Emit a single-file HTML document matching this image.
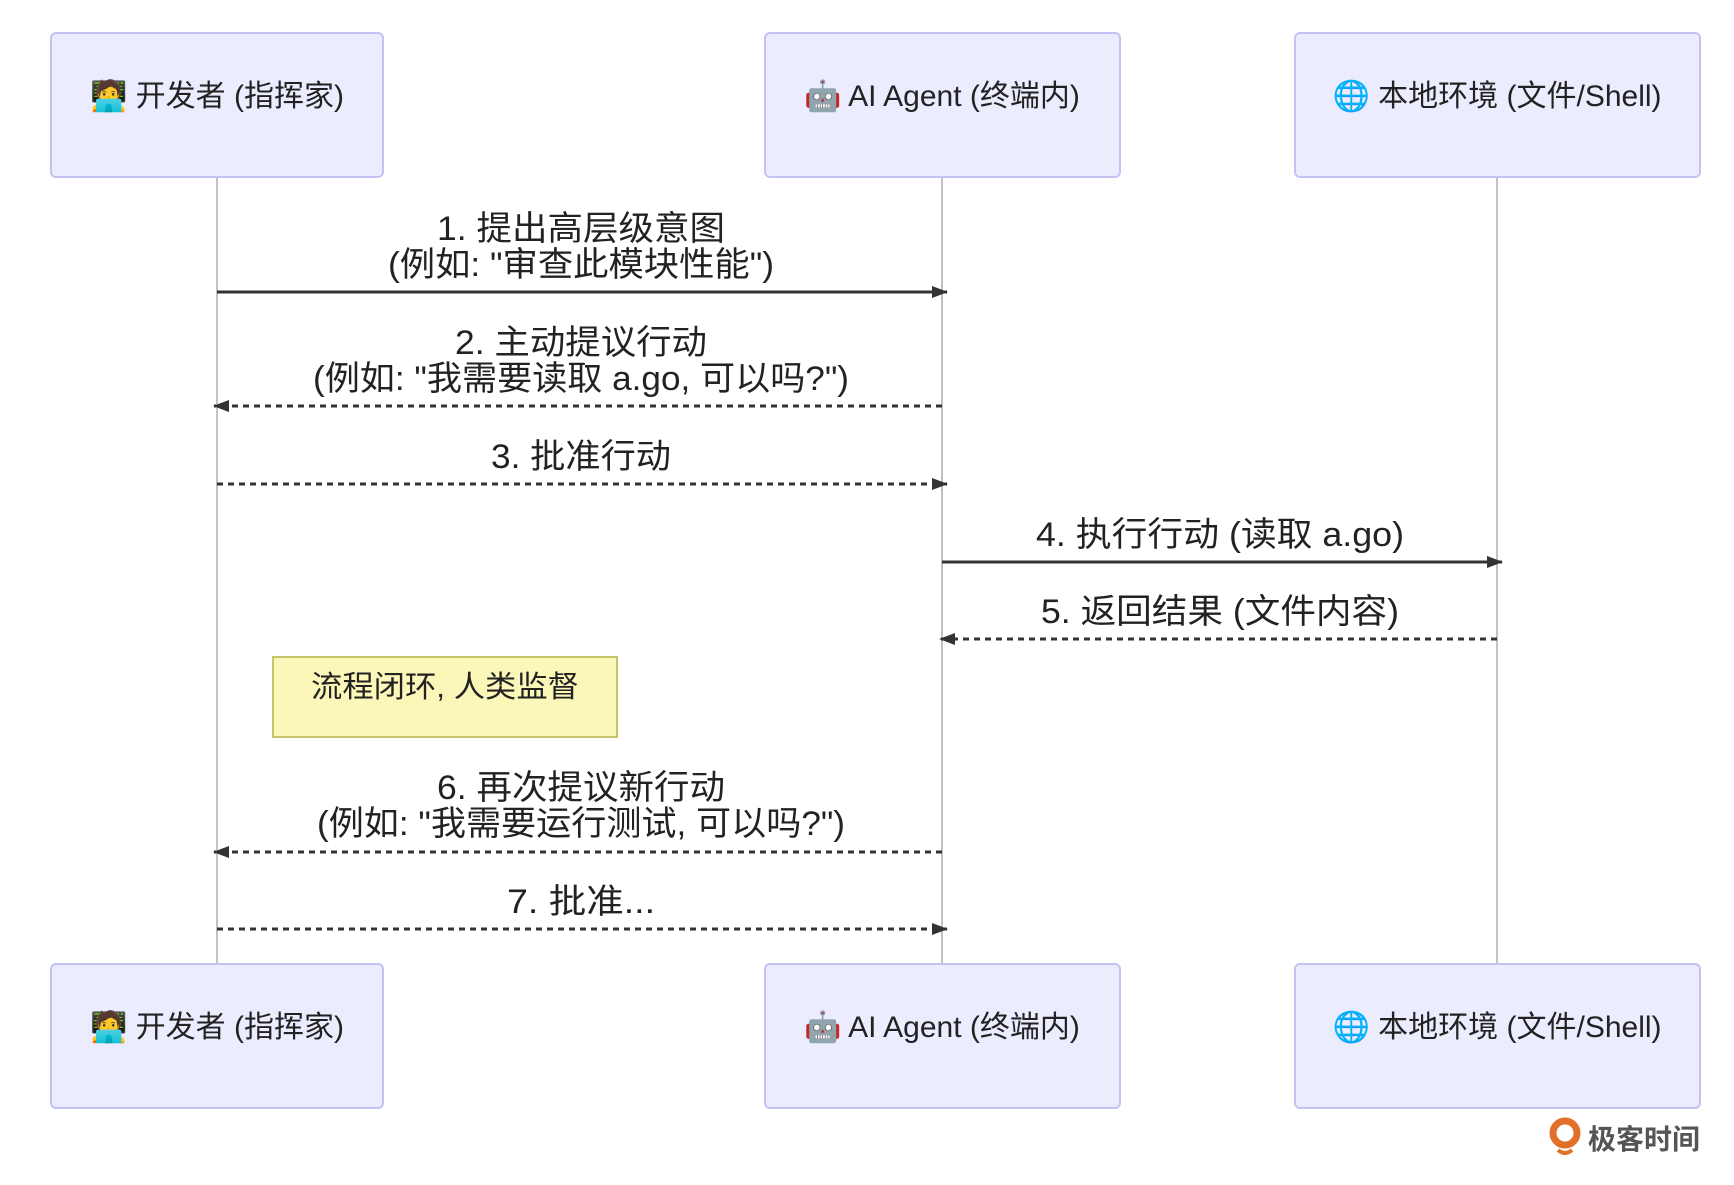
<!DOCTYPE html>
<html><head><meta charset="utf-8"><style>
html,body{margin:0;padding:0;background:#fff}
svg text{font-family:"Liberation Sans","Noto Sans CJK SC",sans-serif;fill:#222}
</style></head><body>
<svg width="1734" height="1180" viewBox="0 0 1734 1180" xmlns="http://www.w3.org/2000/svg">
<defs>
<marker id="a" markerWidth="16" markerHeight="12" refX="15" refY="6" orient="auto" markerUnits="userSpaceOnUse"><path d="M0,0 L16,6 L0,12 z" fill="#333"/></marker>
</defs>
<g stroke="#999" stroke-width="1.2">
<line x1="217" y1="178" x2="217" y2="964"/>
<line x1="942" y1="178" x2="942" y2="964"/>
<line x1="1497" y1="178" x2="1497" y2="964"/>
</g>
<g fill="#ececff" stroke="#c3c3f5" stroke-width="2">
<rect x="51" y="33" width="332" height="144" rx="5"/>
<rect x="765" y="33" width="355" height="144" rx="5"/>
<rect x="1295" y="33" width="405" height="144" rx="5"/>
<rect x="51" y="964" width="332" height="144" rx="5"/>
<rect x="765" y="964" width="355" height="144" rx="5"/>
<rect x="1295" y="964" width="405" height="144" rx="5"/>
</g>
<g font-size="30" text-anchor="middle">
<text x="217" y="106">🧑‍💻 开发者 (指挥家)</text>
<text x="942" y="106">🤖 AI Agent (终端内)</text>
<text x="1497" y="106">🌐 本地环境 (文件/Shell)</text>
<text x="217" y="1037">🧑‍💻 开发者 (指挥家)</text>
<text x="942" y="1037">🤖 AI Agent (终端内)</text>
<text x="1497" y="1037">🌐 本地环境 (文件/Shell)</text>
</g>
<g stroke="#333" stroke-width="3" fill="none">
<line x1="217" y1="292" x2="947" y2="292" marker-end="url(#a)"/>
<line x1="942" y1="406" x2="214" y2="406" stroke-dasharray="6,5" marker-end="url(#a)"/>
<line x1="217" y1="484" x2="947" y2="484" stroke-dasharray="6,5" marker-end="url(#a)"/>
<line x1="942" y1="562" x2="1502" y2="562" marker-end="url(#a)"/>
<line x1="1497" y1="639" x2="940" y2="639" stroke-dasharray="6,5" marker-end="url(#a)"/>
<line x1="942" y1="852" x2="214" y2="852" stroke-dasharray="6,5" marker-end="url(#a)"/>
<line x1="217" y1="929" x2="947" y2="929" stroke-dasharray="6,5" marker-end="url(#a)"/>
</g>
<g font-size="34" text-anchor="middle">
<text x="581" y="240" textLength="288" lengthAdjust="spacingAndGlyphs">1. 提出高层级意图</text>
<text x="581" y="276" textLength="386" lengthAdjust="spacingAndGlyphs">(例如: "审查此模块性能")</text>
<text x="581" y="354" textLength="252" lengthAdjust="spacingAndGlyphs">2. 主动提议行动</text>
<text x="581" y="390" textLength="536" lengthAdjust="spacingAndGlyphs">(例如: "我需要读取 a.go, 可以吗?")</text>
<text x="581" y="468" textLength="180" lengthAdjust="spacingAndGlyphs">3. 批准行动</text>
<text x="1220" y="546" textLength="368" lengthAdjust="spacingAndGlyphs">4. 执行行动 (读取 a.go)</text>
<text x="1220" y="623" textLength="358" lengthAdjust="spacingAndGlyphs">5. 返回结果 (文件内容)</text>
<text x="581" y="799" textLength="288" lengthAdjust="spacingAndGlyphs">6. 再次提议新行动</text>
<text x="581" y="835" textLength="528" lengthAdjust="spacingAndGlyphs">(例如: "我需要运行测试, 可以吗?")</text>
<text x="581" y="913" textLength="148" lengthAdjust="spacingAndGlyphs">7. 批准...</text>
</g>
<rect x="273" y="657" width="344" height="80" fill="#fbf7b8" stroke="#c8c46a" stroke-width="2"/>
<text x="445" y="697" font-size="30" text-anchor="middle" textLength="268" lengthAdjust="spacingAndGlyphs">流程闭环, 人类监督</text>
<circle cx="1565" cy="1133" r="12" fill="none" stroke="#e0702a" stroke-width="7"/>
<path d="M1558,1150 Q1565,1156 1572,1150" stroke="#e0702a" stroke-width="4" fill="none"/>
<text x="1588" y="1149" font-size="28" style="fill:#555;font-weight:bold">极客时间</text>
</svg>
</body></html>
